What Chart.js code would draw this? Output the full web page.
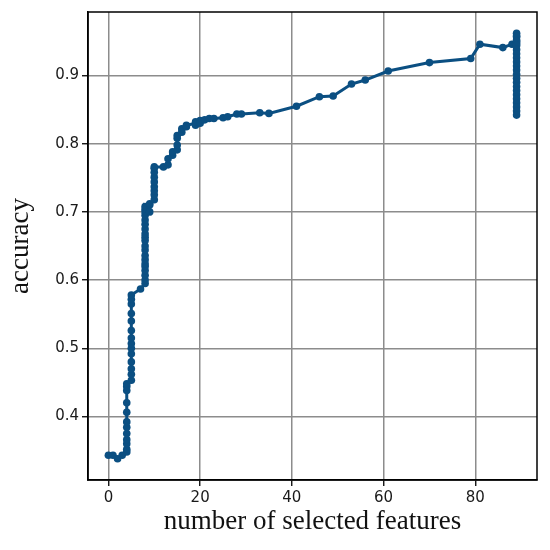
<!DOCTYPE html>
<html>
<head>
<meta charset="utf-8">
<script src="https://cdn.jsdelivr.net/npm/chart.js@4/dist/chart.umd.min.js"></script>
<style>
  html, body { margin: 0; padding: 0; background: #ffffff; }
  #wrap { width: 550px; height: 550px; }
</style>
</head>
<body>
<div id="wrap"><canvas id="c" width="550" height="550"></canvas></div>
<script>
// ---- data ----
const featureCounts = [
  0, 1, 2, 3,
  4, 4, 4, 4, 4, 4, 4, 4, 4, 4, 4, 4,
  5, 5, 5, 5, 5, 5, 5, 5, 5, 5, 5, 5, 5, 5,
  7,
  8, 8, 8, 8, 8, 8, 8, 8, 8, 8, 8, 8, 8, 8, 8, 8, 8, 8, 8, 8,
  9, 9, 9,
  10, 10, 10, 10, 10, 10, 10, 10, 10,
  12, 13, 13, 14, 14, 15, 15, 15, 15, 16, 16, 17, 17, 19, 19, 19, 20, 20,
  21, 22, 23, 25, 26, 28, 29, 33, 35, 41, 46, 49, 53, 56, 61, 70, 79, 81, 86, 88,
  89, 89, 89, 89, 89, 89, 89, 89, 89, 89, 89, 89, 89, 89, 89, 89, 89, 89, 89, 89, 89, 89, 89, 89
];
const accuracies = [
  0.343, 0.343, 0.338, 0.343,
  0.348, 0.352, 0.360, 0.366, 0.375, 0.384, 0.392, 0.406, 0.420, 0.438, 0.444, 0.448,
  0.453, 0.462, 0.470, 0.480, 0.492, 0.500, 0.507, 0.515, 0.526, 0.540, 0.551, 0.565, 0.572, 0.578,
  0.587,
  0.595, 0.600, 0.607, 0.614, 0.620, 0.624, 0.630, 0.636, 0.644, 0.650, 0.658, 0.663, 0.668, 0.675, 0.682, 0.688, 0.695, 0.700, 0.704, 0.708,
  0.700, 0.710, 0.712,
  0.718, 0.725, 0.731, 0.737, 0.744, 0.751, 0.758, 0.764, 0.766,
  0.766, 0.769, 0.778, 0.783, 0.788, 0.791, 0.798, 0.808, 0.812, 0.817, 0.822, 0.825, 0.827, 0.830, 0.827, 0.832, 0.834, 0.830,
  0.835, 0.837, 0.837, 0.838, 0.8395, 0.8435, 0.8435, 0.8455, 0.8445, 0.855, 0.869, 0.870, 0.8875, 0.8934, 0.9066, 0.919, 0.925, 0.946, 0.941, 0.946,
  0.947, 0.952, 0.957, 0.962, 0.958, 0.950, 0.944, 0.938, 0.932, 0.926, 0.920, 0.914, 0.908, 0.902, 0.896, 0.890, 0.884, 0.878, 0.872, 0.866, 0.860, 0.854, 0.848, 0.842
];
const xTickValues = [0, 20, 40, 60, 80];
const yTickValues = [0.4, 0.5, 0.6, 0.7, 0.8, 0.9];
const xTitle = 'number of selected features';
const yTitle = 'accuracy';

// ---- build chart ----
const points = featureCounts.map((x, i) => ({ x: x, y: accuracies[i] }));
const lineColor = 'rgb(11,79,130)';

const frame = {
  id: 'frame',
  afterDatasetsDraw(chart) {
    const a = chart.chartArea, ctx = chart.ctx;
    ctx.save();
    ctx.strokeStyle = '#000';
    ctx.lineWidth = 1.5;
    ctx.strokeRect(a.left, a.top, a.right - a.left, a.bottom - a.top);
    ctx.restore();
  }
};

new Chart(document.getElementById('c'), {
  type: 'scatter',
  data: {
    datasets: [{
      data: points,
      showLine: true,
      borderColor: lineColor,
      backgroundColor: lineColor,
      borderWidth: 3,
      pointRadius: 3.8,
      pointBorderWidth: 0,
      pointBackgroundColor: lineColor,
      tension: 0
    }]
  },
  options: {
    responsive: false,
    devicePixelRatio: 1,
    animation: false,
    layout: { padding: { top: 12, right: 13, left: 0, bottom: 0 } },
    plugins: { legend: { display: false }, tooltip: { enabled: false } },
    scales: {
      x: {
        type: 'linear',
        min: -4.45, max: 93.45,
        afterBuildTicks: s => { s.ticks = xTickValues.map(v => ({ value: v })); },
        afterFit: s => { s.height = 70; },
        ticks: { font: { family: 'DejaVu Sans', size: 15 }, color: '#1a1a1a', padding: 3, maxRotation: 0 },
        grid: { color: '#8c8c8c', lineWidth: 1.5, tickColor: '#000', tickWidth: 1.3, tickLength: 6 },
        border: { display: true, color: '#000', width: 1.5 },
        title: { display: true, text: xTitle, font: { family: 'Liberation Serif', size: 27 }, color: '#111', padding: { top: 0, bottom: 12 } }
      },
      y: {
        type: 'linear',
        min: 0.3068, max: 0.9932,
        afterBuildTicks: s => { s.ticks = yTickValues.map(v => ({ value: v })); },
        afterFit: s => { s.width = 88; },
        ticks: { font: { family: 'DejaVu Sans', size: 15 }, color: '#1a1a1a', padding: 3, callback: v => v.toFixed(1) },
        grid: { color: '#8c8c8c', lineWidth: 1.5, tickColor: '#000', tickWidth: 1.3, tickLength: 6 },
        border: { display: true, color: '#000', width: 1.5 },
        title: { display: true, text: yTitle, font: { family: 'Liberation Serif', size: 27 }, color: '#111', padding: { top: 5, bottom: 0 } }
      }
    }
  },
  plugins: [frame]
});
</script>
</body>
</html>
